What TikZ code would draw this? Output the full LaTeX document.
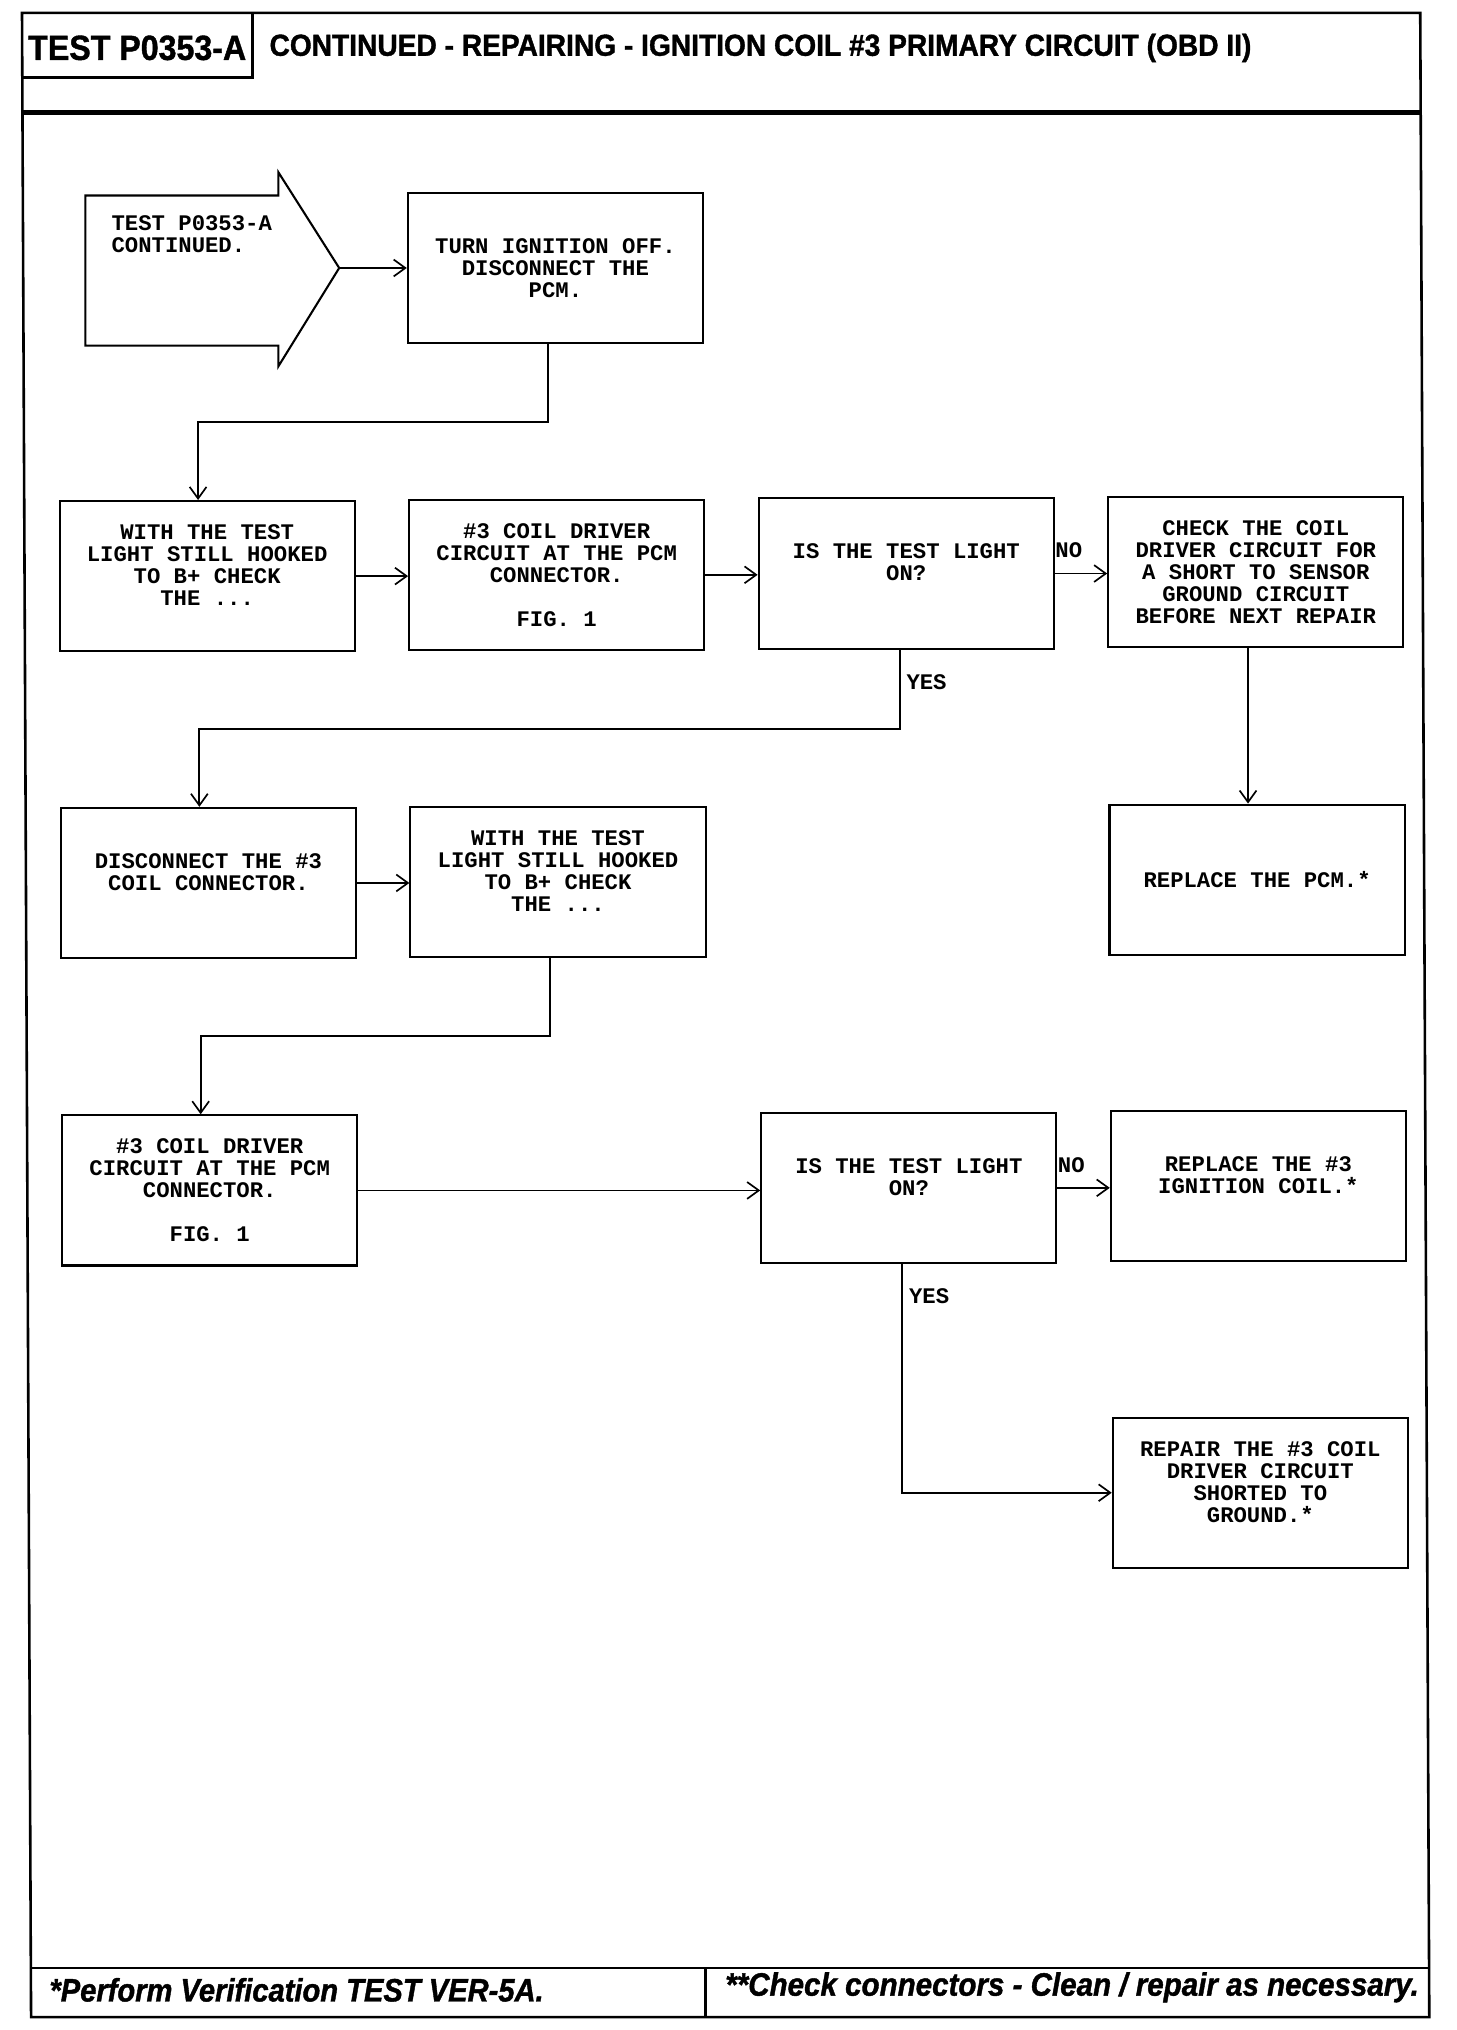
\documentclass[tikz,border=0pt]{standalone}
\usepackage{fontspec}
\setmonofont{Liberation Mono}
\newfontfamily\tstfont[FakeStretch=0.92, FakeBold=1.2]{Liberation Sans Bold}
\newfontfamily\ttlfont[FakeStretch=0.925, FakeBold=1.2]{Liberation Sans Bold}
\newfontfamily\ftfont[FakeStretch=0.90, FakeBold=1.2]{Liberation Sans Bold Italic}
\newfontfamily\ftbfont[FakeStretch=0.913, FakeBold=1.2]{Liberation Sans Bold Italic}
\usetikzlibrary{arrows.meta}
\tikzset{
  stepbox/.style={draw, line width=1.6pt, minimum width=228pt, minimum height=116pt, inner sep=0pt, align=center, font=\boxfont},
  arr/.style={line width=1.4pt, -{Straight Barb[length=9pt,width=13pt,line width=1.3pt]}},
  lbl/.style={font=\boxfont, inner sep=0pt},
  frame/.style={line width=2pt},
}
\newcommand{\boxfont}{\fontsize{17.2}{17}\selectfont\ttfamily\bfseries}
\begin{document}
\begin{tikzpicture}[x=1pt,y=-1pt]
\useasboundingbox (0,0) rectangle (1125,1568);
% frame
\draw[frame] (17,10) -- (1097,10) -- (1104,1558) -- (24,1558) -- cycle;
\draw[line width=3.5pt] (18,87) -- (1097.5,87);
\draw[line width=2pt] (17,60) -- (195,60) -- (195,10);
\draw[line width=2pt] (24,1520) -- (1104,1520);
\draw[line width=2pt] (545,1520) -- (545,1558);
% header texts
\node[font=\tstfont\fontsize{27}{27}\selectfont, inner sep=0pt] (hd1) at (106,37) {TEST P0353-A};
\node[font=\ttlfont\fontsize{23.5}{24}\selectfont, inner sep=0pt, anchor=west] (hd2) at (208,37) {CONTINUED - REPAIRING - IGNITION COIL \#3 PRIMARY CIRCUIT (OBD II)};
% footer texts
\node[font=\ftfont\fontsize{25}{25}\selectfont, inner sep=0pt, anchor=west] (ft1) at (38,1537) {*Perform Verification TEST VER-5A.};
\node[font=\ftbfont\fontsize{25}{25}\selectfont, inner sep=0pt, anchor=west] (ft2) at (560,1535) {**Check connectors - Clean / repair as necessary.};
% start arrow shape
\draw[line width=1.6pt] (66,151) -- (215,151) -- (215,133) -- (262,207) -- (215,283) -- (215,267) -- (66,267) -- cycle;
\coordinate (tip) at (262,207);
\node[font=\boxfont, align=left, anchor=north west, inner sep=0pt] (st) at (86,166) {TEST P0353-A\\CONTINUED.};
% boxes
\node[stepbox] (B1) at (429,207) {TURN IGNITION OFF.\\DISCONNECT THE\\PCM.};
\node[stepbox] (B2) at (160,445) {WITH THE TEST\\LIGHT STILL HOOKED\\TO B+ CHECK\\THE ...\\~};
\node[stepbox] (B3) at (430,444) {\#3 COIL DRIVER\\CIRCUIT AT THE PCM\\CONNECTOR.\\~\\FIG. 1};
\node[stepbox] (B4) at (700,443) {IS THE TEST LIGHT\\ON?\\~};
\node[stepbox] (B5) at (970,442) {CHECK THE COIL\\DRIVER CIRCUIT FOR\\A SHORT TO SENSOR\\GROUND CIRCUIT\\BEFORE NEXT REPAIR};
\node[stepbox] (B6) at (161,682) {DISCONNECT THE \#3\\COIL CONNECTOR.\\~};
\node[stepbox] (B7) at (431,681.5) {WITH THE TEST\\LIGHT STILL HOOKED\\TO B+ CHECK\\THE ...\\~};
\node[stepbox] (B8) at (971,679.5) {REPLACE THE PCM.*};
\node[stepbox] (B9) at (162,919.5) {\#3 COIL DRIVER\\CIRCUIT AT THE PCM\\CONNECTOR.\\~\\FIG. 1};
\node[stepbox] (B10) at (702,917.5) {IS THE TEST LIGHT\\ON?\\~};
\node[stepbox] (B11) at (972,916) {REPLACE THE \#3\\IGNITION COIL.*\\~};
\node[stepbox] (B12) at (973.5,1153) {REPAIR THE \#3 COIL\\DRIVER CIRCUIT\\SHORTED TO\\GROUND.*\\~};
% connectors
\draw[arr] (tip) -- (B1.west);
\draw[arr] ([xshift=-6pt]B1.south) -- ++(0,60) -| ([xshift=-7pt]B2.north);
\draw[arr] (B2.east) -- (B2.east -| B3.west);
\draw[arr] (B3.east) -- (B3.east -| B4.west);
\draw[arr] (B4.east) -- (B4.east -| B5.west);
\node[lbl, anchor=west] (no1) at (815,425) {NO};
\draw[arr] ([xshift=-5pt]B4.south) -- ++(0,61) -| ([xshift=-7pt]B6.north);
\node[lbl, anchor=west] (yes1) at (700,527) {YES};
\draw[arr] ([xshift=-6pt]B5.south) -- ([xshift=-7pt]B8.north);
\draw[arr] (B6.east) -- (B6.east -| B7.west);
\draw[arr] ([xshift=-6pt]B7.south) -- ++(0,60) -| ([xshift=-7pt]B9.north);
\draw[arr] (B9.east) -- (B9.east -| B10.west);
\draw[arr] (B10.east) -- (B10.east -| B11.west);
\node[lbl, anchor=west] (no2) at (817,900) {NO};
\draw[arr] ([xshift=-5pt]B10.south) |- (B12.west);
\node[lbl, anchor=west] (yes2) at (702,1001) {YES};
\end{tikzpicture}
\end{document}
